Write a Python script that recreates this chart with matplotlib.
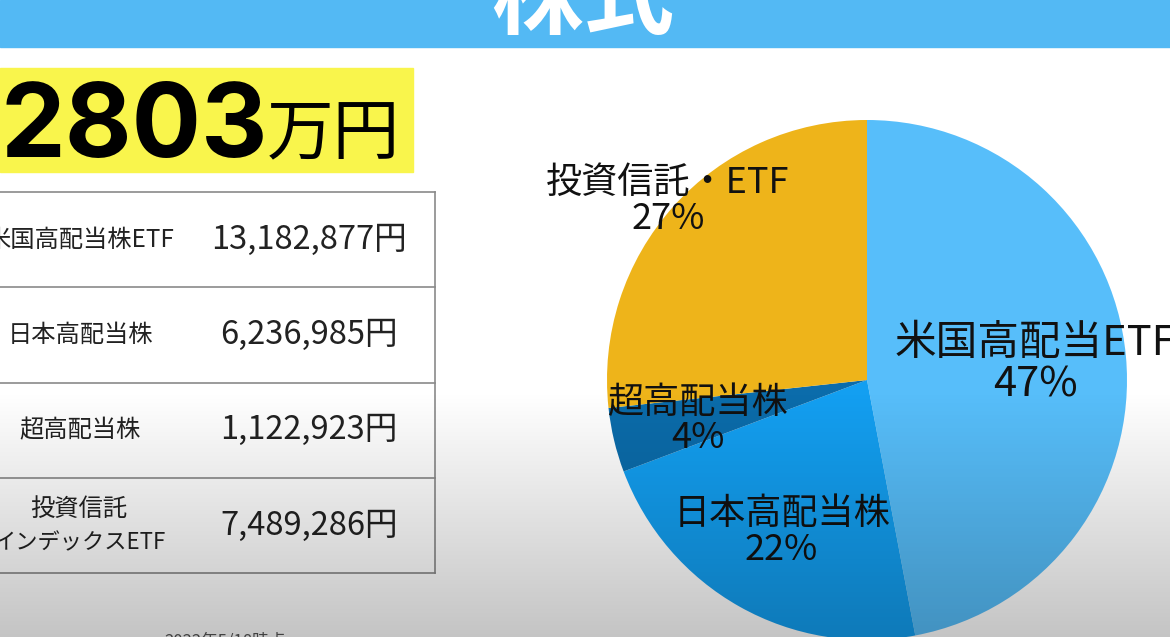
import matplotlib
matplotlib.use("Agg")
import matplotlib.pyplot as plt
import numpy as np
from matplotlib.patches import Rectangle

plt.rcParams["font.family"] = ["Noto Sans CJK JP", "DejaVu Sans"]

# data
title = "株式"
total_label = "2803"
total_unit = "万円"
categories = ["米国高配当ETF", "日本高配当株", "超高配当株", "投資信託・ETF"]
table_labels = ["米国高配当株ETF", "日本高配当株", "超高配当株", "投資信託\nインデックスETF"]
amounts = [13182877, 6236985, 1122923, 7489286]
date_note = "2022年5/18時点"

colors = ["#57befa", "#139ff1", "#0b6cab", "#eeb41a"]

W, H = 1170, 637
fig = plt.figure(figsize=(W / 100, H / 100), dpi=100)

# pixel-space axes for the slide background, header and table
ax = fig.add_axes([0, 0, 1, 1], zorder=0)
ax.set_xlim(0, W)
ax.set_ylim(H, 0)
ax.axis("off")

ax.add_patch(Rectangle((0, 0), W, H, color="white"))
ax.add_patch(Rectangle((0, 0), W, 47, color="#53b9f4"))
ax.text(583, 0, title, color="white", fontsize=66, fontweight="bold",
        ha="center", va="center")

# big total in yellow box
ax.add_patch(Rectangle((0, 68), 413, 104, color="#f9f54c"))
ax.text(0, 157, total_label, family=["Inter", "Liberation Sans"], fontweight="bold",
        fontsize=74, ha="left", va="baseline", color="black")
ax.text(267, 154, total_unit, fontsize=48, ha="left", va="baseline", color="black")

# table
top, row_h, right = 192, 95.3, 435
for i, (lab, amt) in enumerate(zip(table_labels, amounts)):
    y0 = top + i * row_h
    yc = y0 + row_h / 2
    if "\n" in lab:
        l1, l2 = lab.split("\n")
        ax.text(79, yc - 17, l1, fontsize=17.5, ha="center", va="center", color="#222")
        ax.text(79, yc + 17, l2, fontsize=16, ha="center", va="center", color="#222")
    else:
        ax.text(80, yc, lab, fontsize=17.5, ha="center", va="center", color="#222")
    ax.text(309, yc, f"{amt:,}円", fontsize=23.5, ha="center", va="center", color="#222")
for i in range(5):
    y = top + i * row_h
    ax.plot([0, right], [y, y], color="#8a8a8a", lw=1.2)
ax.plot([right, right], [top, top + 4 * row_h], color="#8a8a8a", lw=1.2)

ax.text(225, 641, date_note, fontsize=12, ha="center", va="center", color="#555")

# pie
cx, cy, r = 867, 380, 260
pax = fig.add_axes([(cx - r) / W, (H - cy - r) / H, 2 * r / W, 2 * r / H], zorder=1)
wedges, _ = pax.pie(amounts, colors=colors, startangle=90, counterclock=False,
                    radius=1, wedgeprops=dict(linewidth=0))
pax.set_xlim(-1, 1)
pax.set_ylim(-1, 1)
pax.axis("off")

total = sum(amounts)
label_dist = [0.65, 0.67, 0.67, 1.03]
label_size = [30, 26, 26, 26]
for w, name, amt, d, fs in zip(wedges, categories, amounts, label_dist, label_size):
    mid = np.deg2rad((w.theta1 + w.theta2) / 2)
    pct = round(100 * amt / total)
    pax.text(d * np.cos(mid), d * np.sin(mid), f"{name}\n{pct}%",
             fontsize=fs, ha="center", va="center", linespacing=1.0,
             color="#111", clip_on=False)

# grey shading towards the bottom of the slide
oax = fig.add_axes([0, 0, 1, 1], zorder=2)
oax.axis("off")
ys = np.arange(H)
alpha = np.clip((ys - 390) / (H - 390), 0, 1) * 0.235
shade = np.zeros((H, 1, 4))
shade[:, 0, 3] = alpha
oax.imshow(shade, extent=[0, W, H, 0], aspect="auto", interpolation="bilinear")
oax.set_xlim(0, W)
oax.set_ylim(H, 0)

fig.savefig("out.png", dpi=100)
